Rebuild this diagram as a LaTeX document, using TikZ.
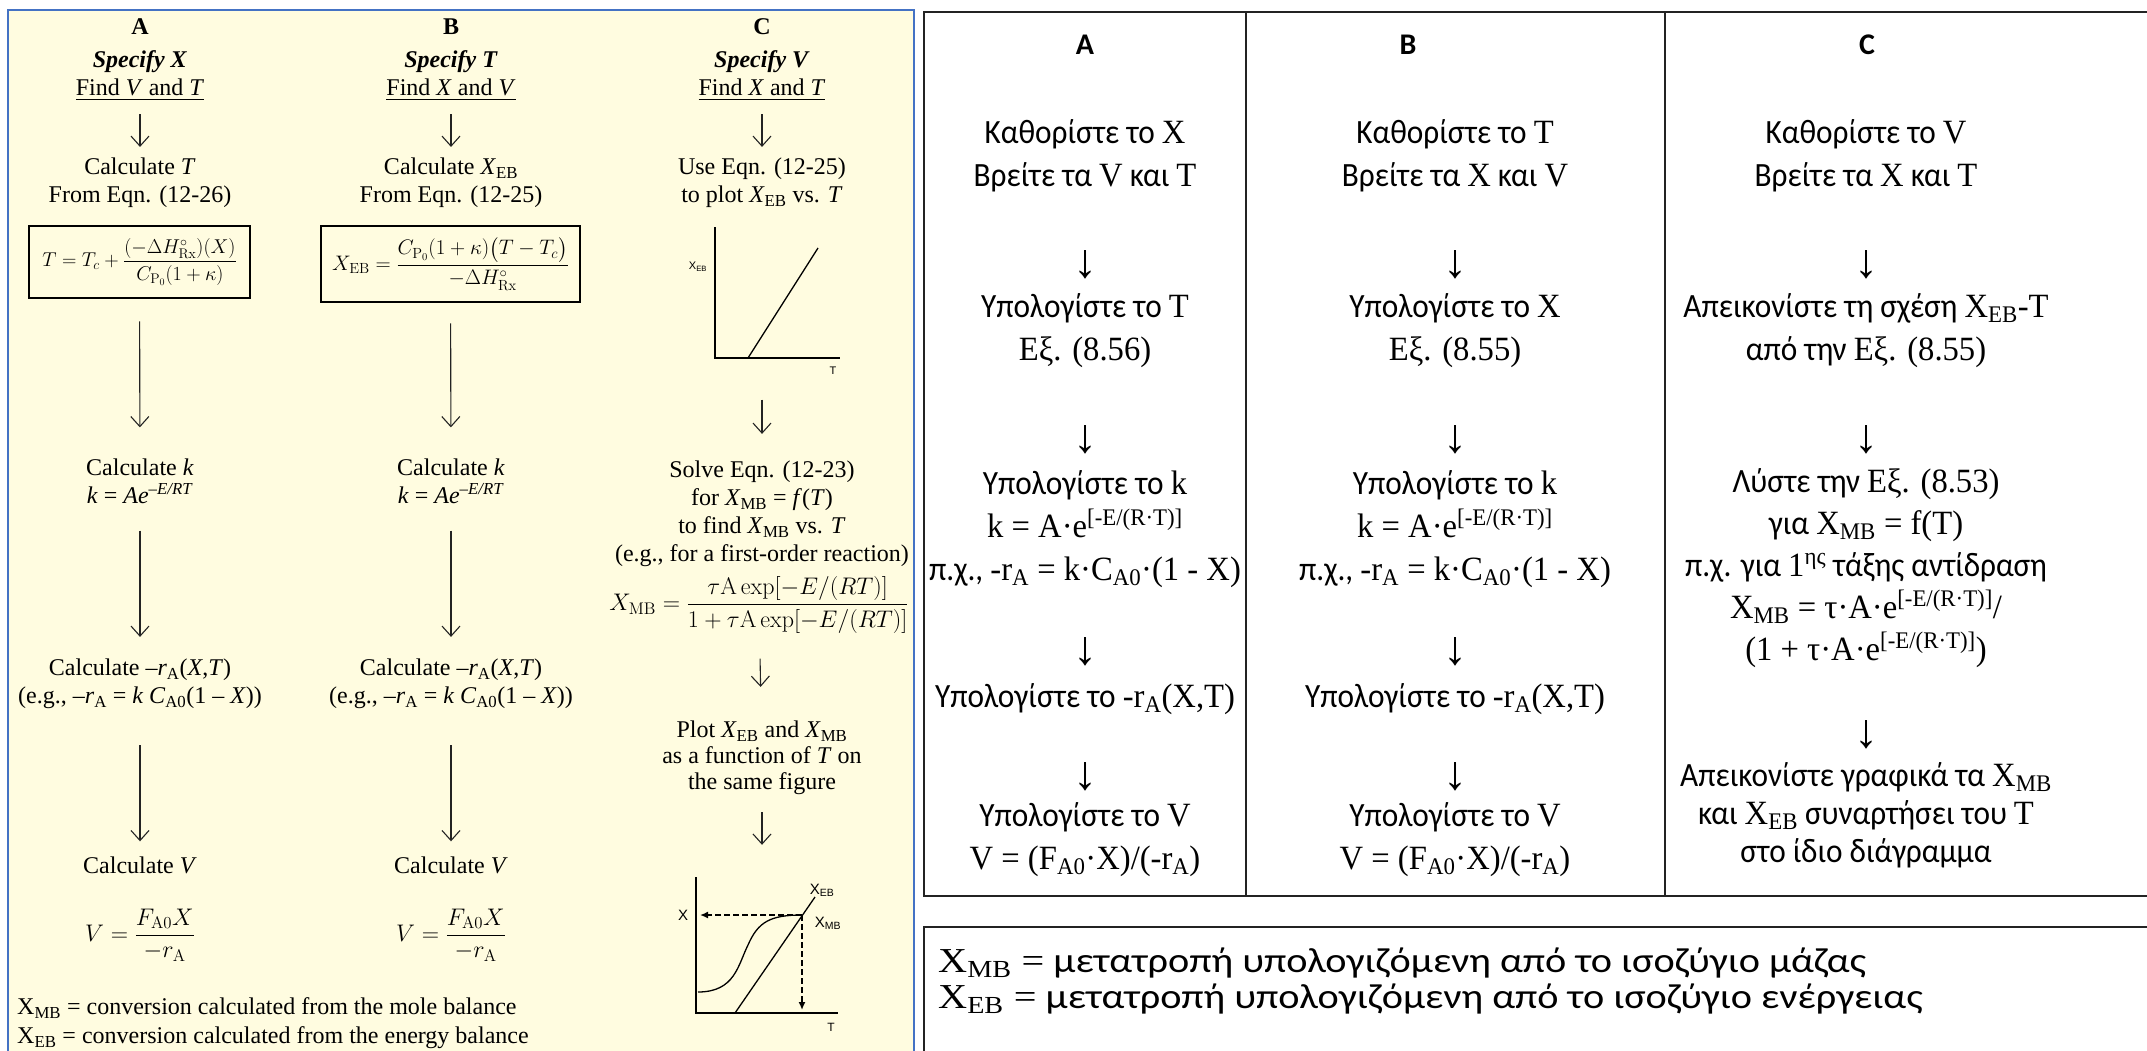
\RequirePackage{fix-cm}
\documentclass[tikz,border=0pt]{standalone}
\usepackage{amsmath}
\usepackage[no-math]{fontspec}
\setmainfont{Carlito}
\newfontfamily\grk[FakeStretch=0.92]{Carlito}
\newfontfamily\wgrk[FakeStretch=1.15]{Carlito}
\newfontfamily\sr{Liberation Serif}
\newfontfamily\tsr[FakeStretch=0.96]{Liberation Serif}
\newfontfamily\wsr[FakeStretch=1.15]{Liberation Serif}
\newfontfamily\ar{Liberation Sans}
\usetikzlibrary{arrows.meta,positioning}
\definecolor{paper}{RGB}{255,252,224}
\definecolor{frameblue}{RGB}{68,114,196}
\definecolor{ink}{RGB}{35,35,35}
\def\sv#1{{\tsr #1}}
\def\dn#1{\textsubscript{#1}}
\def\up#1{\textsuperscript{#1}}

\begin{document}
\begin{tikzpicture}
[x=1pt,y=-1pt,
gr/.style={font=\grk\fontsize{34}{43}\selectfont,align=center,inner sep=0pt},
hd/.style={font=\bfseries\fontsize{30}{34}\selectfont,inner sep=0pt},
dwn/.style={font=\sr\fontsize{48}{48}\selectfont,inner sep=0pt},
tx/.style={font=\sr\fontsize{24}{28}\selectfont,align=center,inner sep=0pt},
eqbox/.style={draw=black,line width=2.5pt,inner sep=1pt,font=\fontsize{21}{26}\selectfont},
flow/.style={-{Straight Barb[length=10pt,width=18pt]},line width=1.1pt,draw=ink},
lab/.style={font=\ar\fontsize{15}{15}\selectfont,inner sep=0pt},
note/.style={font=\wgrk\fontsize{35}{38}\selectfont,inner sep=0pt,anchor=west},
guide/.style={line width=2pt,dash pattern=on 6pt off 3pt,-{Latex[length=8pt,width=7pt]}}]
\useasboundingbox (0,0) rectangle (2147,1050);
% panels
\fill[paper,draw=frameblue,line width=2pt] (8,10) rectangle (914,1070);
\draw[ink,line width=2pt] (924,12) rectangle (2170,896);
\draw[ink,line width=2pt] (1246,12) -- (1246,896);
\draw[ink,line width=2pt] (1665,12) -- (1665,896);
\draw[ink,line width=2pt] (924,927) rectangle (2170,1070);
% left panel, column A
\node[tx,font=\sr\bfseries\fontsize{24}{28}\selectfont] (lA) at (140,27) {A};
\node[tx] (sA) at (140,62) {\textbf{\textit{Specify X}}};
\node[tx] (fA) at (140,90) {\underline{Find \textit{V} and \textit{T}}};
\node[tx] (cA) at (140,183) {Calculate \textit{T}\\From Eqn. (12-26)};
\node[eqbox,minimum width=221pt,minimum height=72pt,font=\fontsize{20}{25}\selectfont] (bA) at (139.5,262) {$T = T_c + \dfrac{(-\Delta H^\circ_{\mathrm{Rx}})(X)}{C_{\mathrm{P}_0}(1+\kappa)}$};
\node[tx] (kA) at (140,481) {Calculate \textit{k}\\\textit{k} = \textit{Ae}\up{\textit{–E/RT}}};
\node[tx] (rA) at (140,684) {Calculate –\textit{r}\dn{A}(\textit{X},\textit{T})\\(e.g., –\textit{r}\dn{A} = \textit{k C}\dn{A0}(1 – \textit{X}))};
\node[tx] (vA) at (140,865) {Calculate \textit{V}};
\node[tx,font=\fontsize{24}{28}\selectfont] (qA) at (140,935) {$V = \dfrac{F_{\mathrm{A0}}X}{-r_{\mathrm{A}}}$};
\draw[flow,shorten <=13pt,shorten >=11pt] (fA) -- (cA);
\draw[flow,shorten <=22pt,shorten >=31pt] (bA) -- (kA);
\draw[flow,shorten <=27pt,shorten >=22pt] (kA) -- (rA);
\draw[flow,shorten <=36pt,shorten >=15pt] (rA) -- (vA);
% left panel, column B
\node[tx,font=\sr\bfseries\fontsize{24}{28}\selectfont] (lB) at (451,27) {B};
\node[tx] (sB) at (451,62) {\textbf{\textit{Specify T}}};
\node[tx] (fB) at (451,90) {\underline{Find \textit{X} and \textit{V}}};
\node[tx] (cB) at (451,183) {Calculate \textit{X}\dn{EB}\\From Eqn. (12-25)};
\node[eqbox,minimum width=259pt,minimum height=76pt] (bB) at (450.5,264) {$X_{\mathrm{EB}} = \dfrac{C_{\mathrm{P}_0}(1+\kappa)\bigl(T-T_c\bigr)}{-\Delta H^\circ_{\mathrm{Rx}}}$};
\node[tx] (kB) at (451,481) {Calculate \textit{k}\\\textit{k} = \textit{Ae}\up{\textit{–E/RT}}};
\node[tx] (rB) at (451,684) {Calculate –\textit{r}\dn{A}(\textit{X},\textit{T})\\(e.g., –\textit{r}\dn{A} = \textit{k C}\dn{A0}(1 – \textit{X}))};
\node[tx] (vB) at (451,865) {Calculate \textit{V}};
\node[tx,font=\fontsize{24}{28}\selectfont] (qB) at (451,935) {$V = \dfrac{F_{\mathrm{A0}}X}{-r_{\mathrm{A}}}$};
\draw[flow,shorten <=13pt,shorten >=11pt] (fB) -- (cB);
\draw[flow,shorten <=20pt,shorten >=31pt] (bB) -- (kB);
\draw[flow,shorten <=27pt,shorten >=22pt] (kB) -- (rB);
\draw[flow,shorten <=36pt,shorten >=15pt] (rB) -- (vB);
% left panel, column C
\node[tx,font=\sr\bfseries\fontsize{24}{28}\selectfont] (lC) at (762,27) {C};
\node[tx] (sC0) at (762,62) {\textbf{\textit{Specify V}}};
\node[tx] (fC) at (762,90) {\underline{Find \textit{X} and \textit{T}}};
\node[tx] (cC) at (762,183) {Use Eqn. (12-25)\\to plot \textit{X}\dn{EB} vs. \textit{T}};
\node[minimum width=150pt,minimum height=145pt,inner sep=0pt] (pl1) at (762,298) {};
\node[tx] (sC) at (762,514) {Solve Eqn. (12-23)\\for \textit{X}\dn{MB} = \textit{f}(\textit{T})\\to find \textit{X}\dn{MB} vs. \textit{T}\\(e.g., for a first-order reaction)};
\node[tx,font=\fontsize{24}{28}\selectfont] (eC) at (759,605) {$X_{\mathrm{MB}} = \dfrac{\tau\mathrm{A}\exp[-E/(RT)]}{1+\tau\mathrm{A}\exp[-E/(RT)]}$};
\node[tx,font=\sr\fontsize{24}{26}\selectfont] (pC) at (762,758) {Plot \textit{X}\dn{EB} and \textit{X}\dn{MB}\\as a function of \textit{T} on\\the same figure};
\node[minimum width=160pt,minimum height=140pt,inner sep=0pt] (pl2) at (762,945) {};
\draw[flow,shorten <=13pt,shorten >=11pt] (fC) -- (cC);
\draw[flow,shorten <=29pt,shorten >=27pt] (pl1) -- (sC);
\draw[flow,shorten <=25pt,shorten >=34pt] (eC) -- (pC);
\draw[flow,shorten <=17pt,shorten >=30pt] (pC) -- (pl2);
% small plot: X_EB vs T
\draw[line width=1.3pt] (715,227) -- (715,358) -- (840,358);
\draw[line width=1.3pt] (748,358) -- (818,248);
\node[lab,font=\ar\fontsize{11}{11}\selectfont] (xeb1) at (698,267) {X\dn{EB}};
\node[lab,font=\ar\fontsize{11}{11}\selectfont] (t1) at (833,371) {T};
% small plot: X_EB and X_MB vs T
\draw[line width=1.3pt] (696,877) -- (696,1013) -- (838,1013);
\draw[line width=1.3pt] (735,1013) -- (815,897);
\draw[line width=1.3pt] (698,992) .. controls (735,992) and (738,965) .. (748,945) .. controls (758,922) and (770,915) .. (802,915);
\coordinate (cut) at (802,915);
\coordinate (xax) at (700,915);
\coordinate (tax) at (802,1010);
\draw[guide] (cut) -- (xax);
\draw[guide] (cut) -- (tax);
\node[lab] (xl) at (683,915) {X};
\node[lab] (xebl) at (822,890) {X\dn{EB}};
\node[lab] (xmbl) at (828,923) {X\dn{MB}};
\node[lab,font=\ar\fontsize{12}{12}\selectfont] (tl2) at (831,1027) {T};
\node[tx,anchor=west] (mbL) at (17,1008) {X\dn{MB} = conversion calculated from the mole balance};
\node[tx,anchor=west] (ebL) at (17,1038) {X\dn{EB} = conversion calculated from the energy balance};
% right panel, column A
\node[hd] (hA) at (1085,45) {A};
\node[gr] (a1) at (1085,156) {Καθορίστε το \sv{X}\\Βρείτε τα \sv{V} και \sv{T}};
\node[dwn] (a2) at (1085,265) {↓};
\node[gr] (a3) at (1085,331) {Υπολογίστε το \sv{T}\\\sv{Εξ. (8.56)}};
\node[dwn] (a4) at (1085,440) {↓};
\node[gr] (a5) at (1085,529) {Υπολογίστε το \sv{k}\\\sv{k = A·e\up{[-E/(R·T)]}}\\π.χ., \sv{-r\dn{A} = k·C\dn{A0}·(1 - X)}};
\node[dwn] (a6) at (1085,652) {↓};
\node[gr] (a7) at (1085,699) {Υπολογίστε το \sv{-r\dn{A}(X,T)}};
\node[dwn] (a8) at (1085,777) {↓};
\node[gr] (a9) at (1085,840) {Υπολογίστε το \sv{V}\\\sv{V = (F\dn{A0}·X)/(-r\dn{A})}};
% right panel, column B
\node[hd] (hB) at (1408,45) {B};
\node[gr] (b1) at (1455,156) {Καθορίστε το \sv{T}\\Βρείτε τα \sv{X} και \sv{V}};
\node[dwn] (b2) at (1455,265) {↓};
\node[gr] (b3) at (1455,331) {Υπολογίστε το \sv{X}\\\sv{Εξ. (8.55)}};
\node[dwn] (b4) at (1455,440) {↓};
\node[gr] (b5) at (1455,529) {Υπολογίστε το \sv{k}\\\sv{k = A·e\up{[-E/(R·T)]}}\\π.χ., \sv{-r\dn{A} = k·C\dn{A0}·(1 - X)}};
\node[dwn] (b6) at (1455,652) {↓};
\node[gr] (b7) at (1455,699) {Υπολογίστε το \sv{-r\dn{A}(X,T)}};
\node[dwn] (b8) at (1455,777) {↓};
\node[gr] (b9) at (1455,840) {Υπολογίστε το \sv{V}\\\sv{V = (F\dn{A0}·X)/(-r\dn{A})}};
% right panel, column C
\node[hd] (hC) at (1867,45) {C};
\node[gr] (c1) at (1866,156) {Καθορίστε το \sv{V}\\Βρείτε τα \sv{X} και \sv{T}};
\node[dwn] (c2) at (1866,265) {↓};
\node[gr] (c3) at (1866,331) {Απεικονίστε τη σχέση \sv{X\dn{EB}-T}\\από την \sv{Εξ. (8.55)}};
\node[dwn] (c4) at (1866,440) {↓};
\node[gr,font=\grk\fontsize{34}{42}\selectfont] (c5) at (1866,568) {Λύστε την \sv{Εξ. (8.53)}\\για \sv{X\dn{MB} = f(T)}\\π.χ. για \sv{1\up{ης}} τάξης αντίδραση\\\sv{X\dn{MB} = τ·A·e\up{[-E/(R·T)]}/}\\\sv{(1 + τ·A·e\up{[-E/(R·T)]})}};
\node[dwn] (c6) at (1866,735) {↓};
\node[gr,font=\grk\fontsize{34}{38}\selectfont] (c7) at (1866,815) {Απεικονίστε γραφικά τα \sv{X\dn{MB}}\\και \sv{X\dn{EB}} συναρτήσει του \sv{T}\\στο ίδιο διάγραμμα};
% legend
\node[note] (mbR) at (938,963) {{\wsr X\dn{MB} =} μετατροπή υπολογιζόμενη από το ισοζύγιο μάζας};
\node[note] (ebR) at (938,999) {{\wsr X\dn{EB} =} μετατροπή υπολογιζόμενη από το ισοζύγιο ενέργειας};
\end{tikzpicture}
\end{document}
